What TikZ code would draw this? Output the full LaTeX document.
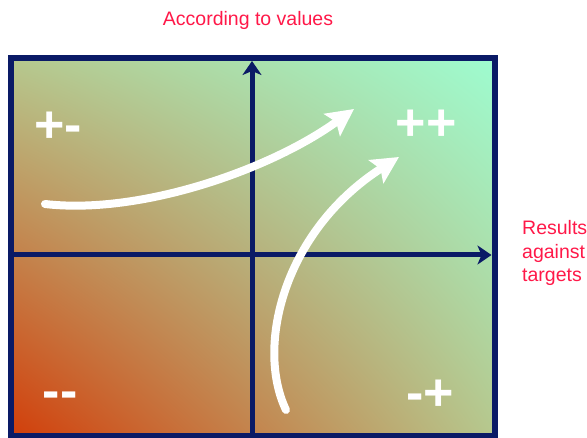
\documentclass[tikz,border=0pt]{standalone}
\usepackage{fontspec}
\setmainfont{Liberation Sans}
\usetikzlibrary{arrows.meta,shadings}
\definecolor{navy}{RGB}{10,26,102}
\definecolor{lblred}{RGB}{255,24,72}
\definecolor{cBL}{RGB}{210,62,10}
\definecolor{cMID}{RGB}{182,200,142}
\definecolor{cTR}{RGB}{158,252,208}
\tikzset{
  axisline/.style={draw=navy, line width=5pt, -{Stealth[length=14pt,width=19pt,inset=4pt]}},
  framebox/.style={draw=navy, line width=6pt},
  trendarrow/.style={draw=white, line width=8pt, line cap=round, -{Stealth[length=27pt,width=27pt,inset=5pt]}},
  axislabel/.style={text=lblred, font=\fontsize{19.5}{23.5}\selectfont, inner sep=0pt},
  quadlabel/.style={text=white, font=\fontsize{52}{52}\selectfont\bfseries, inner sep=0pt, anchor=base},
}
\begin{document}
\begin{tikzpicture}[x=1pt, y=-1pt]
\useasboundingbox (0,0) rectangle (587,438);
% gradient background
\shade[lower left=cBL, upper right=cTR, lower right=cMID, upper left=cMID] (11,58) rectangle (494.5,436);
% frame
\draw[framebox] (11,58) rectangle (494.5,436);
% axes
\coordinate (vbot) at (252,436);
\coordinate (vtop) at (252,61);
\coordinate (hleft) at (11,255);
\coordinate (hright) at (491.5,255);
\draw[axisline] (vbot) -- (vtop);
\draw[axisline] (hleft) -- (hright);
% labels
\node[axislabel] (title) at (248,20) {According to values};
\node[axislabel, anchor=west, align=left] (right) at (522,253) {Results\\against\\targets};
% quadrant labels
\node[quadlabel] (pm) at (58,142.5) {+-};
\node[quadlabel] (pp) at (426,140.5) {++};
\node[quadlabel] (mm) at (60,409) {-{}-};
\node[quadlabel] (mp) at (430,411) {-+};
% trend arrows
\coordinate (a1s) at (45,204);
\coordinate (a1e) at (354,109);
\coordinate (a2s) at (286,410);
\coordinate (a2e) at (399,157);
\draw[trendarrow] (a1s) .. controls (140,215) and (270,170) .. (a1e);
\draw[trendarrow] (a2s) .. controls (255,345) and (285,230) .. (a2e);
\end{tikzpicture}
\end{document}
